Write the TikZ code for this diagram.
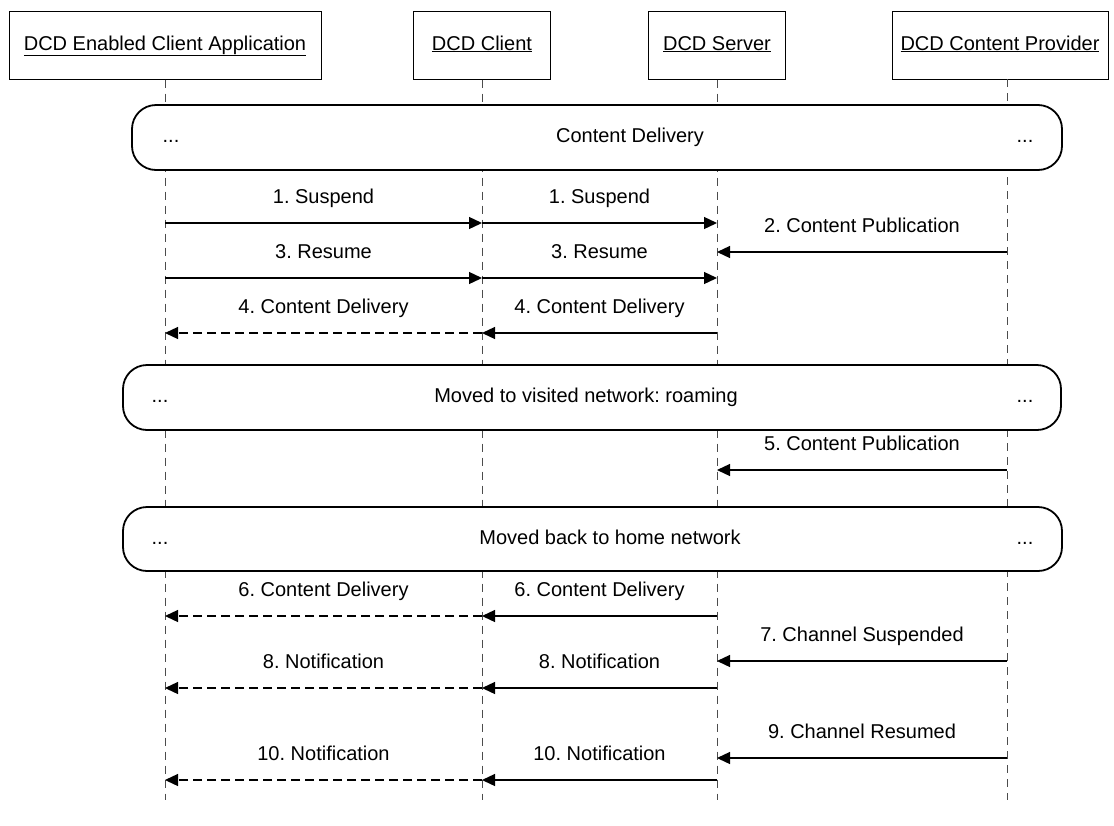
\documentclass[tikz,border=0pt]{standalone}
\usepackage{fontspec}
\setmainfont{Liberation Sans}
\usetikzlibrary{arrows.meta}
\frenchspacing

\tikzset{
  actor/.style={draw, line width=1pt, minimum height=68pt, fill=white, text height=15pt, text depth=5pt},
  lifeline/.style={line width=1pt, black!70, dash pattern=on 8pt off 6pt},
  frame/.style={draw, line width=1.8pt, rounded corners=24pt, fill=white},
  note/.style={text height=15pt, text depth=5pt},
  msg/.style={line width=1.3pt, -{Triangle[length=13pt, width=12pt]}},
  reply/.style={msg, dash pattern=on 9pt off 5pt},
  lbl/.style={anchor=base, yshift=20pt, inner sep=0pt}
}

\begin{document}
\begin{tikzpicture}[x=1pt, y=-1pt, font=\fontsize{20}{24}\selectfont]
\useasboundingbox (0,0) rectangle (1114,825);

% actors
\node[actor, minimum width=312pt] (app) at (165,45) {\underline{DCD Enabled Client Application}};
\node[actor, minimum width=137pt] (client) at (482,45) {\underline{DCD Client}};
\node[actor, minimum width=137pt] (server) at (717,45) {\underline{DCD Server}};
\node[actor, minimum width=216pt] (provider) at (1000,45) {\underline{DCD Content Provider}};

% lifelines
\coordinate (pl) at (1007,79);
\coordinate (bottom) at (0,800);
\foreach \a in {app.south, client.south, server.south, pl}
  \draw[lifeline] (\a) -- (\a |- bottom);

% frames
\draw[frame] (132,105) rectangle (1062,170);
\node[note] (f1) at (630,137) {Content Delivery};
\node[note] (f1l) at (171,137) {...};
\node[note] (f1r) at (1025,137) {...};

\draw[frame] (123,365) rectangle (1061,430);
\node[note] (f2) at (586,397) {Moved to visited network: roaming};
\node[note] (f2l) at (160,397) {...};
\node[note] (f2r) at (1025,397) {...};

\draw[frame] (123,507) rectangle (1062,571);
\node[note] (f3) at (610,539) {Moved back to home network};
\node[note] (f3l) at (160,539) {...};
\node[note] (f3r) at (1025,539) {...};

% message rows
\coordinate (r1) at (0,223);
\coordinate (r2) at (0,252);
\coordinate (r3) at (0,278);
\coordinate (r4) at (0,333);
\coordinate (r5) at (0,470);
\coordinate (r6) at (0,616);
\coordinate (r7) at (0,661);
\coordinate (r8) at (0,688);
\coordinate (r9) at (0,758);
\coordinate (r10) at (0,780);

% messages
\draw[msg] (app |- r1) -- node[lbl] (m1a) {1. Suspend} (client |- r1);
\draw[msg] (client |- r1) -- node[lbl] (m1b) {1. Suspend} (server |- r1);
\draw[msg] (pl |- r2) -- node[lbl] (m2) {2. Content Publication} (server |- r2);
\draw[msg] (app |- r3) -- node[lbl] (m3a) {3. Resume} (client |- r3);
\draw[msg] (client |- r3) -- node[lbl] (m3b) {3. Resume} (server |- r3);
\draw[msg] (server |- r4) -- node[lbl] (m4b) {4. Content Delivery} (client |- r4);
\draw[reply] (client |- r4) -- node[lbl] (m4a) {4. Content Delivery} (app |- r4);

\draw[msg] (pl |- r5) -- node[lbl] (m5) {5. Content Publication} (server |- r5);

\draw[msg] (server |- r6) -- node[lbl] (m6b) {6. Content Delivery} (client |- r6);
\draw[reply] (client |- r6) -- node[lbl] (m6a) {6. Content Delivery} (app |- r6);
\draw[msg] (pl |- r7) -- node[lbl] (m7) {7. Channel Suspended} (server |- r7);
\draw[msg] (server |- r8) -- node[lbl] (m8b) {8. Notification} (client |- r8);
\draw[reply] (client |- r8) -- node[lbl] (m8a) {8. Notification} (app |- r8);
\draw[msg] (pl |- r9) -- node[lbl] (m9) {9. Channel Resumed} (server |- r9);
\draw[msg] (server |- r10) -- node[lbl] (m10b) {10. Notification} (client |- r10);
\draw[reply] (client |- r10) -- node[lbl] (m10a) {10. Notification} (app |- r10);

\end{tikzpicture}
\end{document}
